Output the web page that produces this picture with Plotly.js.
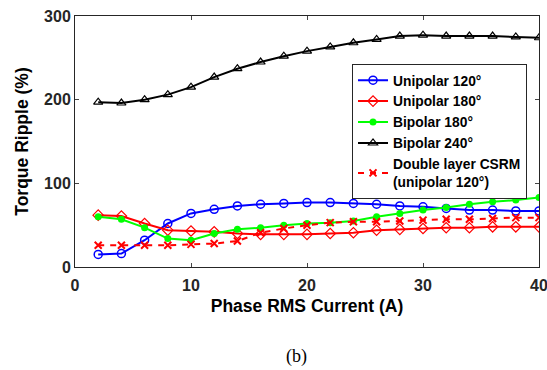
<!DOCTYPE html>
<html>
<head>
<meta charset="utf-8">
<script src="https://cdn.plot.ly/plotly-3.0.1.min.js"></script>
<style>html,body{margin:0;padding:0;background:#fff;}#chart{width:547px;height:370px;}</style>
</head>
<body>
<div id="chart"></div>
<script>
const current = [2,4,6,8,10,12,14,16,18,20,22,24,26,28,30,32,34,36,38,40];
const unipolar120 = [15,16,32,52,64,69,73,75,76,77,77,76,75,73,72,70,68,68,67,67];
const unipolar180 = [62,61,52,44,43,42,40,39,39,39,40,41,44,45,46,47,47,48,48,48];
const bipolar180 = [60,57,47,34,32,40,45,47,50,52,53,55,60,64,68,71,75,78,80,83];
const bipolar240 = [197,196,200,206,215,227,237,245,252,258,263,268,272,276,277,276,276,276,275,274];
const doubleLayer = [26,26,26,26,27,28,31,41,46,50,53,54,54,55,56,57,57,58,59,59];
const seriesNames = ["Unipolar 120°","Unipolar 180°","Bipolar 180°","Bipolar 240°","Double layer CSRM<br>(unipolar 120°)"];

const traces = [
  {x: current, y: unipolar120, name: seriesNames[0], mode: 'lines+markers',
   line: {color: '#0000ff', width: 2}, marker: {symbol: 'circle-open', size: 8, color: '#0000ff', line: {width: 1.5}}},
  {x: current, y: unipolar180, name: seriesNames[1], mode: 'lines+markers',
   line: {color: '#ff0000', width: 2}, marker: {symbol: 'diamond-open', size: 8, color: '#ff0000', line: {width: 1.2}}},
  {x: current, y: bipolar180, name: seriesNames[2], mode: 'lines+markers',
   line: {color: '#00ff00', width: 2}, marker: {symbol: 'circle', size: 7, color: '#00ff00'}},
  {x: current, y: bipolar240, name: seriesNames[3], mode: 'lines+markers',
   line: {color: '#000000', width: 2}, marker: {symbol: 'triangle-up-open', size: 8, color: '#000000', line: {width: 1.2}}},
  {x: current, y: doubleLayer, name: seriesNames[4], mode: 'lines+markers',
   line: {color: '#ff0000', width: 2, dash: '6px,6px'}, marker: {symbol: 'x-thin-open', size: 7, color: '#ff0000', line: {width: 2, color: '#ff0000'}}}
];

const fontFam = 'Liberation Sans, Arial, sans-serif';
const layout = {
  width: 547, height: 370,
  margin: {l: 75, r: 8, t: 16, b: 103},
  paper_bgcolor: '#fff', plot_bgcolor: '#fff',
  font: {family: fontFam, color: '#262626'},
  showlegend: true,
  legend: {x: 0.597, y: 0.81, xanchor: 'left', yanchor: 'top',
    bordercolor: '#262626', borderwidth: 1, bgcolor: '#fff',
    font: {family: fontFam, size: 13.8, color: '#000', weight: 'bold'},
    tracegroupgap: 0, itemwidth: 30},
  xaxis: {range: [0, 40], tickvals: [0,10,20,30,40], ticks: 'inside', ticklen: 4,
    showline: true, mirror: 'ticks', linecolor: '#262626', linewidth: 1, showgrid: false, zeroline: false,
    ticklabelstandoff: 4, ticklabeloverflow: 'allow',
    tickfont: {family: fontFam, size: 16, color: '#262626', weight: 'bold'},
    title: {text: 'Phase RMS Current (A)', font: {family: fontFam, size: 17.5, color: '#000', weight: 'bold'}, standoff: 6}},
  yaxis: {range: [0, 300], tickvals: [0,100,200,300], ticks: 'inside', ticklen: 4,
    showline: true, mirror: 'ticks', linecolor: '#262626', linewidth: 1, showgrid: false, zeroline: false,
    ticklabeloverflow: 'allow',
    tickfont: {family: fontFam, size: 16, color: '#262626', weight: 'bold'},
    title: {text: 'Torque Ripple (%)', font: {family: fontFam, size: 17.5, color: '#000', weight: 'bold'}, standoff: 10}},
  annotations: [{text: '(b)', xref: 'paper', yref: 'paper', x: 0.478, y: -0.355, xanchor: 'center', yanchor: 'middle',
    showarrow: false, font: {family: 'Liberation Serif, Times New Roman, serif', size: 18, color: '#000'}}]
};
Plotly.newPlot('chart', traces, layout, {displayModeBar: false, staticPlot: true});
</script>
</body>
</html>
